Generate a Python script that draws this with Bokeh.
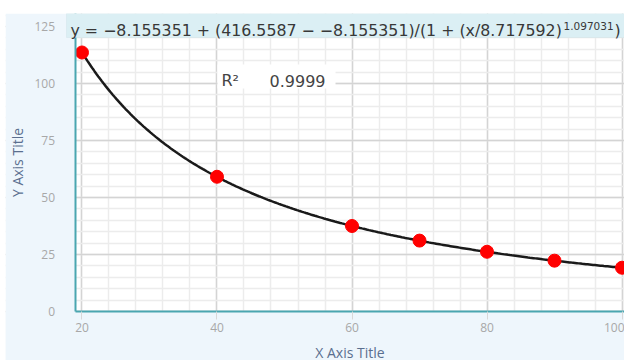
import numpy as np
from bokeh.plotting import figure
from bokeh.models import Range1d, Label, BoxAnnotation, SingleIntervalTicker
from bokeh.embed import file_html
from bokeh.resources import INLINE

# data
x_values = [20, 40, 60, 70, 80, 90, 100]
y_values = [113.6, 59.1, 37.5, 31.1, 26.2, 22.3, 19.2]

# 4PL fit parameters printed on the chart
fit_d = -8.155351
fit_a = 416.5587
fit_c = 8.717592
fit_b = 1.097031
r_squared = "0.9999"

x_title = "X Axis Title"
y_title = "Y Axis Title"
eq_main = "y = \u22128.155351 + (416.5587 \u2212 \u22128.155351)/(1 + (x/8.717592)"
eq_exp = "1.097031"
eq_close = ")"

# view geometry (data units); the frame fills the whole canvas
x_view = (8.667, 100.37)
plot_x_start = 19.11
y_view = (-21.49, 130.70)
y_plot_top = 125

BG = "#eef6fc"
TEAL = "#4aa6b0"
FONT = "Open Sans"
EQ_FONT = "DejaVu Sans"

p = figure(width=619, height=347, x_range=Range1d(*x_view), y_range=Range1d(*y_view),
           output_backend="svg", toolbar_location=None,
           min_border_left=0, min_border_right=0, min_border_top=0, min_border_bottom=0,
           background_fill_color="white", border_fill_color=BG, outline_line_color=None,
           styles={"transform": "translate(5px, 13px)"})

p.xaxis.ticker = SingleIntervalTicker(interval=20, num_minor_ticks=5)
p.yaxis.ticker = SingleIntervalTicker(interval=25, num_minor_ticks=5)
p.xgrid.ticker = p.xaxis.ticker
p.ygrid.ticker = p.yaxis.ticker
for g in (p.xgrid, p.ygrid):
    g.grid_line_color = "#d4d4d4"
    g.grid_line_width = 1.5
    g.minor_grid_line_color = "#ececec"
    g.minor_grid_line_width = 1.5

# page-coloured margins around the white plotting area (drawn over the grid)
p.add_layout(BoxAnnotation(right=plot_x_start, fill_color=BG, fill_alpha=1, line_color=None, level="underlay"))
p.add_layout(BoxAnnotation(top=0, fill_color=BG, fill_alpha=1, line_color=None, level="underlay"))

for ax in (p.xaxis, p.yaxis):
    ax.minor_tick_line_color = None
    ax.axis_line_color = TEAL
    ax.axis_line_width = 2
    ax.major_label_text_color = "#a8a8a8"
    ax.major_label_text_font = FONT
    ax.major_label_text_font_size = "12px"
    ax.axis_label_text_color = "#5a6f8f"
    ax.axis_label_text_font = FONT
    ax.axis_label_text_font_size = "14px"
    ax.axis_label_text_font_style = "normal"

p.xaxis.axis_label = x_title
p.yaxis.axis_label = y_title
p.xaxis.fixed_location = 0
p.xaxis.bounds = (plot_x_start, x_view[1])
p.xaxis.major_tick_line_color = "#d8d8d8"
p.xaxis.major_tick_out = 8
p.xaxis.major_tick_in = 0
p.xaxis.major_label_standoff = 3
p.xaxis.axis_label_standoff = 8
p.yaxis.fixed_location = plot_x_start
p.yaxis.bounds = (0, y_view[1])
p.yaxis.major_tick_line_color = None
p.yaxis.major_tick_out = 0
p.yaxis.major_tick_in = 0
p.yaxis.major_label_standoff = 17
p.yaxis.axis_label_standoff = 4

xs = np.linspace(x_values[0], x_values[-1], 300)
ys = fit_d + (fit_a - fit_d) / (1 + (xs / fit_c) ** fit_b)
p.line(xs, ys, line_color="#1a1a1a", line_width=2.5)
p.scatter(x_values, y_values, size=13, color="#ff0000")

C = dict(x_units="canvas", y_units="canvas")
# equation strip
p.add_layout(BoxAnnotation(left=61, right=660, top=0, bottom=24,
                           left_units="canvas", right_units="canvas", top_units="canvas", bottom_units="canvas",
                           fill_color="#dbeff4", fill_alpha=1, line_color="#c5dce2", line_width=1))
p.add_layout(Label(x=65, y=17, text=eq_main, text_font=EQ_FONT, text_font_size="15.8px",
                   text_color="#383838", text_baseline="alphabetic", text_align="left", **C))
p.add_layout(Label(x=558, y=12, text=eq_exp, text_font=EQ_FONT, text_font_size="10.5px",
                   text_color="#383838", text_baseline="alphabetic", text_align="left", **C))
p.add_layout(Label(x=609, y=17, text=eq_close, text_font=EQ_FONT, text_font_size="15.8px",
                   text_color="#383838", text_baseline="alphabetic", text_align="left", **C))
# R2 box
p.add_layout(BoxAnnotation(left=212, right=330, top=51, bottom=75,
                           left_units="canvas", right_units="canvas", top_units="canvas", bottom_units="canvas",
                           fill_color="white", fill_alpha=1, line_color=None))
p.add_layout(Label(x=216, y=67, text="R\u00b2", text_font=EQ_FONT, text_font_size="16px",
                   text_color="#444444", text_baseline="alphabetic", text_align="left", **C))
p.add_layout(Label(x=264, y=67, text=r_squared, text_font=EQ_FONT, text_font_size="16px",
                   text_color="#444444", text_baseline="alphabetic", text_align="left", **C))

open("out.html", "w").write(file_html(p, INLINE))
